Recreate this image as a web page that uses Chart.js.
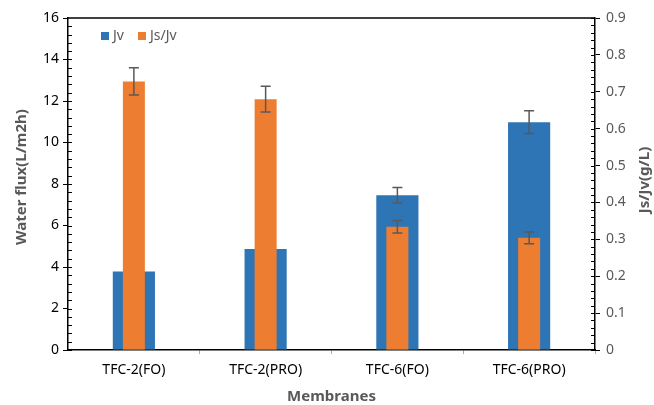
<!DOCTYPE html>
<html>
<head>
<meta charset="utf-8">
<script src="https://cdn.jsdelivr.net/npm/chart.js@4"></script>
<style>
  html, body { margin: 0; padding: 0; background: #fff; }
  #wrap { width: 654px; height: 405px; position: relative; }
</style>
</head>
<body>
<div id="wrap"><canvas id="chart" width="654" height="405"></canvas></div>
<script>
const categories = ["TFC-2(FO)", "TFC-2(PRO)", "TFC-6(FO)", "TFC-6(PRO)"];
const jv = [3.78, 4.87, 7.46, 10.98];
const jvErr = [0.3, 0.3, 0.37, 0.55];
const jsjv = [0.728, 0.680, 0.334, 0.304];
const jsjvErr = [0.037, 0.035, 0.017, 0.016];

const BLUE = "#2E75B6";
const ORANGE = "#ED7D31";
const GRAY = "#595959";
const FONT = "'Noto Sans', 'Open Sans', sans-serif";

// error bars drawn right after each dataset so the orange bars cover blue ones
const errorBars = {
  id: "errorBars",
  afterDatasetDraw(chart, args) {
    const ds = chart.data.datasets[args.index];
    if (!ds.errors) return;
    const meta = args.meta;
    const scale = chart.scales[ds.yAxisID];
    const ctx = chart.ctx;
    ctx.save();
    ctx.strokeStyle = GRAY;
    ctx.lineWidth = 1.5;
    meta.data.forEach((bar, i) => {
      const v = ds.data[i], e = ds.errors[i];
      const yTop = scale.getPixelForValue(v + e);
      const yBot = scale.getPixelForValue(v - e);
      ctx.beginPath();
      ctx.moveTo(bar.x, yTop); ctx.lineTo(bar.x, yBot);
      ctx.moveTo(bar.x - 5, yTop); ctx.lineTo(bar.x + 5, yTop);
      ctx.moveTo(bar.x - 5, yBot); ctx.lineTo(bar.x + 5, yBot);
      ctx.stroke();
    });
    ctx.restore();
  }
};

// frame top line, minor ticks, axis titles and the little legend
const extras = {
  id: "extras",
  afterDraw(chart) {
    const ctx = chart.ctx;
    const a = chart.chartArea;
    const yL = chart.scales.y, yR = chart.scales.y2;
    ctx.save();
    ctx.strokeStyle = "#000";
    ctx.lineWidth = 1.5;
    ctx.beginPath();
    ctx.moveTo(a.left, a.top); ctx.lineTo(a.right, a.top);
    ctx.stroke();

    ctx.lineWidth = 1;
    ctx.beginPath();
    for (let v = 0; v <= 16; v += 0.4) {
      const y = Math.round(yL.getPixelForValue(v)) + 0.5;
      ctx.moveTo(a.left, y); ctx.lineTo(a.left + 4, y);
    }
    for (let v = 0; v <= 0.9001; v += 0.02) {
      const y = Math.round(yR.getPixelForValue(v)) + 0.5;
      ctx.moveTo(a.right, y); ctx.lineTo(a.right - 4, y);
    }
    ctx.stroke();

    // axis titles, both y titles read bottom-to-top
    ctx.fillStyle = GRAY;
    ctx.font = "bold 15px " + FONT;
    ctx.textAlign = "center";
    ctx.textBaseline = "middle";
    ctx.fillText("Membranes", (a.left + a.right) / 2, 397);
    ctx.save();
    ctx.translate(22, 177);
    ctx.rotate(-Math.PI / 2);
    ctx.fillText("Water flux(L/m2h)", 0, 0);
    ctx.restore();
    ctx.save();
    ctx.translate(645, 180);
    ctx.rotate(-Math.PI / 2);
    ctx.fillText("Js/Jv(g/L)", 0, 0);
    ctx.restore();

    ctx.font = "14px " + FONT;
    ctx.textAlign = "left";
    ctx.fillStyle = BLUE;
    ctx.fillRect(101, 32, 8, 8);
    ctx.fillStyle = GRAY;
    ctx.fillText("Jv", 113, 36);
    ctx.fillStyle = ORANGE;
    ctx.fillRect(138, 32, 8, 8);
    ctx.fillStyle = GRAY;
    ctx.fillText("Js/Jv", 150, 36);
    ctx.restore();
  }
};

new Chart(document.getElementById("chart"), {
  type: "bar",
  data: {
    labels: categories,
    datasets: [
      {
        label: "Jv",
        data: jv,
        errors: jvErr,
        backgroundColor: BLUE,
        yAxisID: "y",
        barPercentage: 0.32,
        categoryPercentage: 1,
        grouped: false,
        order: 2
      },
      {
        label: "Js/Jv",
        data: jsjv,
        errors: jsjvErr,
        backgroundColor: ORANGE,
        yAxisID: "y2",
        barPercentage: 0.167,
        categoryPercentage: 1,
        grouped: false,
        order: 1
      }
    ]
  },
  plugins: [errorBars, extras],
  options: {
    responsive: false,
    animation: false,
    layout: { padding: { top: 18, left: 0, right: 0, bottom: 0 } },
    plugins: {
      legend: { display: false },
      tooltip: { enabled: false }
    },
    scales: {
      x: {
        grid: {
          offset: true,
          drawOnChartArea: false,
          tickLength: 4,
          // only the inner separators show a small tick
          color: c => (c.index === 0 || c.index === categories.length) ? "rgba(0,0,0,0)" : "#aaa"
        },
        border: { color: "#000", width: 1.5 },
        ticks: { color: "#000", font: { family: FONT, size: 14 }, padding: 8 },
        afterFit(s) { s.height = 55; }
      },
      y: {
        position: "left",
        min: 0, max: 16,
        ticks: { stepSize: 2, color: "#000", font: { family: FONT, size: 14 }, padding: 4 },
        grid: { drawOnChartArea: false, tickLength: 5, color: "#000" },
        border: { color: "#000", width: 1.5 },
        afterFit(s) { s.width = 68; }
      },
      y2: {
        position: "right",
        min: 0, max: 0.9,
        ticks: { stepSize: 0.1, color: GRAY, font: { family: FONT, size: 14 }, padding: 6 },
        grid: { drawOnChartArea: false, tickLength: 5, color: "#000" },
        border: { color: "#000", width: 1.5 },
        afterFit(s) { s.width = 59; }
      }
    }
  }
});
</script>
</body>
</html>
